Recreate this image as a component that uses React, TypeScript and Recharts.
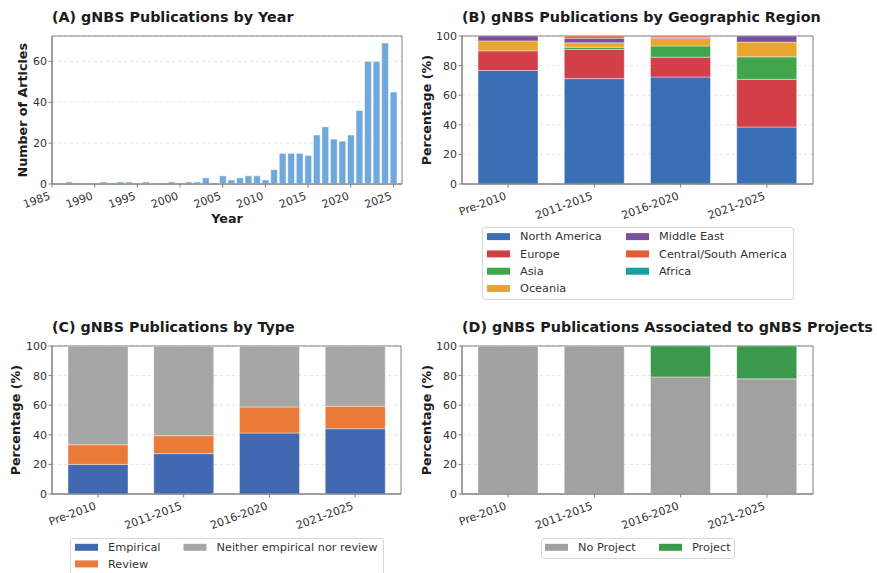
import React from 'react';
import { BarChart, Bar, XAxis, YAxis, CartesianGrid, ReferenceArea } from 'recharts';

// ---------- Data ----------
const years = [1987, 1991, 1993, 1994, 1996, 1999, 2001, 2002, 2003, 2005, 2006, 2007, 2008, 2009, 2010, 2011, 2012, 2013, 2014, 2015, 2016, 2017, 2018, 2019, 2020, 2021, 2022, 2023, 2024, 2025];
const articleCounts = [1, 1, 1, 1, 1, 1, 1, 1, 3, 4, 2, 3, 4, 4, 2, 7, 15, 15, 15, 14, 24, 28, 22, 21, 24, 36, 60, 60, 69, 45];
const yearTicks = [1985, 1990, 1995, 2000, 2005, 2010, 2015, 2020, 2025];
const articleTicks = [0, 20, 40, 60];
const pctTicks = [0, 20, 40, 60, 80, 100];

const periods = ['Pre-2010', '2011-2015', '2016-2020', '2021-2025'];

// (B) region shares (%)
const northAmerica = [76.7, 71.2, 72.3, 38.5];
const europe = [13.3, 19.7, 13.4, 32.2];
const asia = [0, 1.5, 7.6, 15.2];
const oceania = [6.7, 3.0, 5.0, 10.0];
const middleEast = [3.3, 3.1, 0.85, 4.1];
const centralSouthAmerica = [0, 1.5, 0.85, 0];
const africa = [0, 0, 0, 0];

// (C) publication type shares (%)
const empirical = [20.0, 27.3, 41.2, 44.1];
const review = [13.3, 12.1, 17.6, 15.2];
const neither = [66.7, 60.6, 41.2, 40.7];

// (D) project association shares (%)
const noProject = [100, 100, 79.1, 77.8];
const project = [0, 0, 20.9, 22.2];

// ---------- Styling ----------
const FONT = 'DejaVu Sans';
const SPINE = '#808080';
const TICK_TXT = '#333333';
const TITLE_TXT = '#1c1c1c';

const regionSeries = [
  { key: 'North America', values: northAmerica, color: '#3a6fb6' },
  { key: 'Europe', values: europe, color: '#d33f47' },
  { key: 'Asia', values: asia, color: '#41a64b' },
  { key: 'Oceania', values: oceania, color: '#e9a62f' },
  { key: 'Middle East', values: middleEast, color: '#7a4f9c' },
  { key: 'Central/South America', values: centralSouthAmerica, color: '#e25d33' },
  { key: 'Africa', values: africa, color: '#17a09e' },
];
const typeSeries = [
  { key: 'Empirical', values: empirical, color: '#4169b1' },
  { key: 'Review', values: review, color: '#ea7a37' },
  { key: 'Neither empirical nor review', values: neither, color: '#a6a6a6' },
];
const projectSeries = [
  { key: 'No Project', values: noProject, color: '#a1a1a1' },
  { key: 'Project', values: project, color: '#3b9a4b' },
];

const yearData = years.map((y, i) => ({ year: y, count: articleCounts[i] }));
const buildPeriodData = (series: { key: string; values: number[] }[]) =>
  periods.map((p, i) => {
    const row: Record<string, any> = { idx: i, period: p };
    series.forEach((s) => {
      row[s.key] = s.values[i];
    });
    return row;
  });

const RotTick = (props: any) => {
  const { x, y, payload, fmt } = props;
  const label = fmt ? fmt(payload.value) : String(payload.value);
  return (
    <text
      x={0}
      y={0}
      dy="0.8em"
      textAnchor="end"
      fontSize={11}
      fontFamily={FONT}
      fill={TICK_TXT}
      transform={`translate(${x - 4},${y + 1}) rotate(-20)`}
    >
      {label}
    </text>
  );
};

const yTickStyle = { fontSize: 11, fill: TICK_TXT, fontFamily: FONT };

function YearChart() {
  return (
    <div style={{ position: 'absolute', left: 0, top: 0 }}>
      <BarChart width={420} height={230} data={yearData} margin={{ top: 36, right: 18, bottom: 0, left: 0 }}>
        <CartesianGrid vertical={false} stroke="#e4e4e4" strokeDasharray="3 3" />
        <XAxis
          dataKey="year"
          type="number"
          domain={[1985, 2026]}
          allowDataOverflow
          ticks={yearTicks}
          interval={0}
          height={46}
          tickSize={3.5}
          tickLine={{ stroke: SPINE }}
          axisLine={{ stroke: SPINE }}
          tick={(p: any) => <RotTick {...p} />}
        />
        <YAxis
          type="number"
          domain={[0, 72.45]}
          allowDataOverflow
          ticks={articleTicks}
          width={52}
          tickSize={3.5}
          tickMargin={1.5}
          tickLine={{ stroke: SPINE }}
          axisLine={{ stroke: SPINE }}
          tick={yTickStyle}
        />
        <Bar dataKey="count" fill="#6fa8dc" stroke="#ffffff" strokeWidth={0.5} barSize={6.8} isAnimationActive={false} />
        <ReferenceArea x1={1985} x2={2026} y1={0} y2={72.45} fill="none" stroke={SPINE} strokeWidth={1} ifOverflow="visible" />
      </BarChart>
    </div>
  );
}

function PctChart(props: {
  left: number;
  top: number;
  width: number;
  right: number;
  yWidth: number;
  series: { key: string; values: number[]; color: string }[];
}) {
  const { left, top, width, right, yWidth, series } = props;
  const data = buildPeriodData(series);
  return (
    <div style={{ position: 'absolute', left, top }}>
      <BarChart width={width} height={230} data={data} margin={{ top: 36, right, bottom: 0, left: 0 }}>
        <CartesianGrid vertical={false} stroke="#e4e4e4" strokeDasharray="3 3" />
        <XAxis
          dataKey="idx"
          type="number"
          domain={[-0.535, 3.535]}
          allowDataOverflow
          ticks={[0, 1, 2, 3]}
          interval={0}
          height={46}
          tickSize={3.5}
          tickLine={{ stroke: SPINE }}
          axisLine={{ stroke: SPINE }}
          tick={(p: any) => <RotTick {...p} fmt={(v: number) => periods[v]} />}
        />
        <YAxis
          type="number"
          domain={[0, 100]}
          allowDataOverflow
          ticks={pctTicks}
          width={yWidth}
          tickSize={3.5}
          tickMargin={1.5}
          tickLine={{ stroke: SPINE }}
          axisLine={{ stroke: SPINE }}
          tick={yTickStyle}
        />
        {series.map((s) => (
          <Bar
            key={s.key}
            dataKey={s.key}
            stackId="a"
            fill={s.color}
            stroke="#ffffff"
            strokeWidth={0.4}
            barSize={60}
            isAnimationActive={false}
          />
        ))}
        <ReferenceArea x1={-0.535} x2={3.535} y1={0} y2={100} fill="none" stroke={SPINE} strokeWidth={1} ifOverflow="visible" />
      </BarChart>
    </div>
  );
}

type LegendItem = { label: string; color: string; x: number; y: number };

function LegendBox(props: { x: number; y: number; w: number; h: number; items: LegendItem[] }) {
  const { x, y, w, h, items } = props;
  return (
    <g>
      <rect x={x + 0.5} y={y + 0.5} width={w} height={h} rx={2.5} fill="#ffffff" fillOpacity={0.8} stroke="#d8d8d8" strokeWidth={1} />
      {items.map((it) => (
        <g key={it.label}>
          <rect x={it.x} y={it.y - 7.2} width={23} height={7} fill={it.color} />
          <text x={it.x + 33} y={it.y} fontSize={11.3} fontFamily={FONT} fill={TICK_TXT}>
            {it.label}
          </text>
        </g>
      ))}
    </g>
  );
}

function Overlay() {
  const titleProps = { fontSize: 14.3, fontWeight: 700, fontFamily: FONT, fill: TITLE_TXT };
  const labelProps = { fontSize: 12.7, fontWeight: 700, fontFamily: FONT, fill: TITLE_TXT, textAnchor: 'middle' as const };
  const bRows = [240.3, 257.6, 274.9, 292.2];
  const bItems: LegendItem[] = regionSeries.map((s, i) => ({
    label: s.key,
    color: s.color,
    x: i < 4 ? 487 : 626,
    y: bRows[i < 4 ? i : i - 4],
  }));
  const cItems: LegendItem[] = [
    { label: typeSeries[0].key, color: typeSeries[0].color, x: 75, y: 551 },
    { label: typeSeries[1].key, color: typeSeries[1].color, x: 75, y: 567.6 },
    { label: typeSeries[2].key, color: typeSeries[2].color, x: 183.5, y: 551 },
  ];
  const dItems: LegendItem[] = [
    { label: projectSeries[0].key, color: projectSeries[0].color, x: 545, y: 551 },
    { label: projectSeries[1].key, color: projectSeries[1].color, x: 659, y: 551 },
  ];
  return (
    <svg width={877} height={573} style={{ position: 'absolute', left: 0, top: 0, pointerEvents: 'none' }}>
      <text x={52} y={21.7} {...titleProps}>(A) gNBS Publications by Year</text>
      <text x={462} y={21.7} {...titleProps}>(B) gNBS Publications by Geographic Region</text>
      <text x={52} y={331.7} {...titleProps}>(C) gNBS Publications by Type</text>
      <text x={462} y={331.7} {...titleProps}>(D) gNBS Publications Associated to gNBS Projects</text>

      <text x={227} y={223.2} {...labelProps}>Year</text>
      <text transform="translate(26.5,110.2) rotate(-90)" {...labelProps}>Number of Articles</text>
      <text transform="translate(431,110.2) rotate(-90)" {...labelProps}>Percentage (%)</text>
      <text transform="translate(19.5,420.2) rotate(-90)" {...labelProps}>Percentage (%)</text>
      <text transform="translate(431,420.2) rotate(-90)" {...labelProps}>Percentage (%)</text>

      <LegendBox x={482} y={227} w={311} h={72} items={bItems} />
      <LegendBox x={70} y={538} w={313} h={40} items={cItems} />
      <LegendBox x={541} y={538} w={193} h={20} items={dItems} />
    </svg>
  );
}

export default function App() {
  return (
    <div style={{ position: 'absolute', left: 0, top: 0, width: 877, height: 573, background: '#ffffff', overflow: 'hidden', fontFamily: FONT }}>
      <YearChart />
      <PctChart left={420} top={0} width={457} right={64} yWidth={42} series={regionSeries} />
      <PctChart left={0} top={310} width={420} right={19} yWidth={52} series={typeSeries} />
      <PctChart left={420} top={310} width={457} right={64} yWidth={42} series={projectSeries} />
      <Overlay />
    </div>
  );
}
